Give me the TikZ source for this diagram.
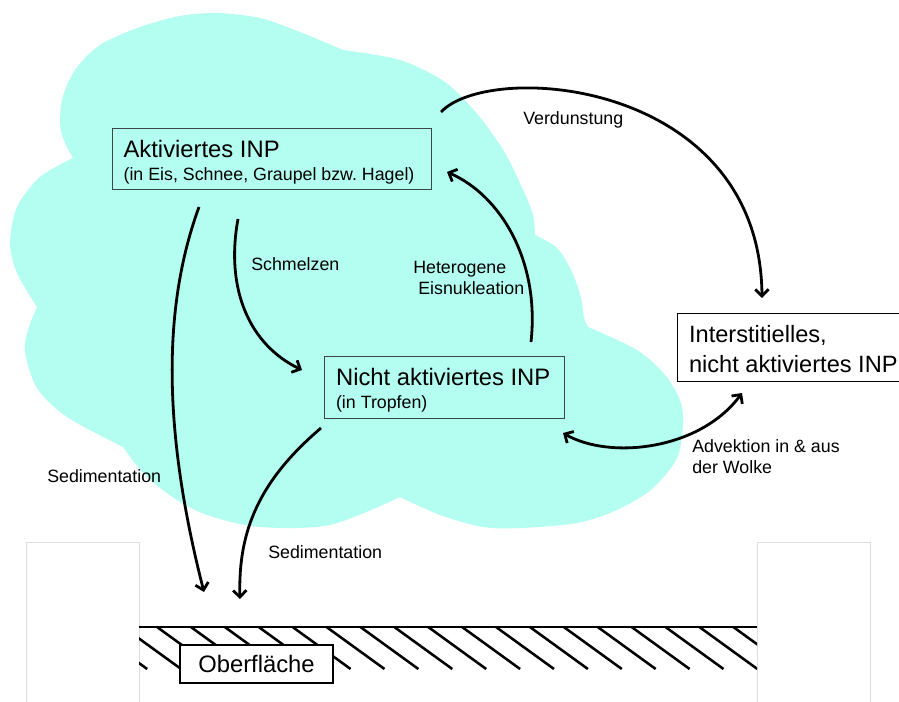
\documentclass[tikz,border=0pt]{standalone}
\usepackage{fontspec}
\setmainfont{Liberation Sans}
\usetikzlibrary{arrows.meta}
\definecolor{cloudc}{RGB}{179,254,240}
\definecolor{boxgray}{RGB}{60,70,70}
\definecolor{lightframe}{RGB}{222,222,222}
\newcommand{\natsp}{\frenchspacing\spaceskip=0pt\xspaceskip=0pt\relax}
\newcommand{\bigfont}{\fontsize{17.85pt}{17.25pt}\selectfont}
\newcommand{\smallfont}{\fontsize{13.35pt}{15.3pt}\selectfont}
\begin{document}
\begin{tikzpicture}[x=0.75pt,y=-0.75pt,
  inpbox/.style={draw=boxgray, line width=0.9pt, anchor=north west, align=left,
                 font=\bigfont, inner ysep=2pt},
  lbl/.style={anchor=base west, font=\smallfont, inner sep=0pt, align=left},
  flow/.style={line width=2.1pt, -{Straight Barb[length=5pt,width=10pt]}},
  flowboth/.style={line width=2.1pt, {Straight Barb[length=5pt,width=10pt]}-{Straight Barb[length=5pt,width=10pt]}},
  hatch/.style={line width=1.9pt},
  frame/.style={draw=lightframe, line width=0.6pt, fill=white},
]
\useasboundingbox (0,0) rectangle (899,702);
\fill[white] (0,0) rectangle (899,702);

% cloud
\fill[cloudc]
  plot[smooth] coordinates {(73,158) (61,132) (62,100) (75,70) (100,45) (140,27) (180,16) (217,13) (260,18) (300,32) (343,50)}
  -- plot[smooth] coordinates {(343,50) (400,60) (445,82) (478,115) (505,153) (524,192) (533,215) (535,235)}
  -- plot[smooth] coordinates {(535,235) (557,248) (572,272) (581,298) (584,318) (588,327)}
  -- plot[smooth] coordinates {(588,327) (637,350) (665,375) (680,400) (683,423) (677,458) (652,489) (617,510) (577,523) (521,528) (483,527) (440,515) (400,497)}
  -- plot[smooth] coordinates {(400,497) (330,525) (260,527) (210,516) (177,500) (145,475) (123,447)}
  -- plot[smooth] coordinates {(123,447) (67,417) (37,388) (25,352) (28,330) (37,307)}
  -- plot[smooth] coordinates {(37,307) (17,273) (10,243) (17,207) (40,177) (73,158)}
  -- cycle;

% light frames at the bottom
\draw[frame] (26,710) -- (26,542) -- (139,542) -- (139,710);
\draw[frame] (757,710) -- (757,542) -- (870,542) -- (870,710);

% ground hatching
\begin{scope}
  \clip (139,620) rectangle (757,669);
  \foreach \i in {-3,...,18} {
    \draw[hatch] ({157+33.9*\i},627) -- ++(58,42);
  }
\end{scope}
\draw[line width=2.2pt] (139,627) -- (757,627);

% nodes
\node[inpbox, text width=222.75pt, inner xsep=8.25pt, minimum height=45.75pt] (akt) at (112,128)
  {\natsp\mbox{\rule{0pt}{17.8pt}Aktiviertes INP}\\\mbox{\smallfont\natsp (in Eis, Schnee, Graupel bzw. Hagel)}};
\node[inpbox, text width=162.75pt, inner xsep=8.6pt, minimum height=46.5pt] (nicht) at (324,356)
  {\natsp\mbox{\rule{0pt}{17pt}Nicht aktiviertes INP}\\\mbox{\smallfont\natsp (in Tropfen)}};
\node[inpbox, draw=black, fill=white, text width=165pt, inner xsep=8.6pt, minimum height=51pt,
      font=\fontsize{17.7pt}{22.5pt}\selectfont] (inter) at (677,313)
  {\natsp\mbox{\rule{0pt}{15pt}Interstitielles,}\\\mbox{nicht aktiviertes INP}};
\node[draw=black, fill=white, line width=1.6pt, minimum width=114.75pt, minimum height=28.5pt,
      inner sep=0pt, font=\bigfont] (ober) at (256.5,664) {Oberfläche};

% labels
\node[lbl] (lschm) at (251,271) {Schmelzen};
\node[lbl] (lverd) at (523,125) {Verdunstung};
\node[lbl] (lhet) at (413,294) {Heterogene\\\hspace*{3.8pt}Eisnukleation};
\node[lbl] (ladv) at (692,473) {\natsp Advektion in \& aus\\der Wolke};
\node[lbl] (lsed1) at (47,482) {Sedimentation};
\node[lbl] (lsed2) at (268,558) {Sedimentation};

% connector end points
\coordinate (sedLs) at (199,207);
\coordinate (sedLe) at (204,592);
\coordinate (schms) at (238,219);
\coordinate (schme) at (302,370);
\coordinate (hets) at (531,342);
\coordinate (hete) at (447,172);
\coordinate (verds) at (441,112);
\coordinate (verde) at (762,298);
\coordinate (adva) at (563,433);
\coordinate (advb) at (742,393);
\coordinate (sedMs) at (321,428);
\coordinate (sedMe) at (240,599);

% connectors
\draw[flow] (sedLs) .. controls (165,300) and (160,420) .. (sedLe);
\draw[flow] (schms) .. controls (225,290) and (250,345) .. (schme);
\draw[flow] (hets) .. controls (540,260) and (500,195) .. (hete);
\draw[flow] (verds) .. controls (490,60) and (760,80) .. (verde);
\draw[flowboth] (adva) .. controls (610,460) and (700,450) .. (advb);
\draw[flow] (sedMs) .. controls (260,480) and (238,530) .. (sedMe);
\end{tikzpicture}
\end{document}
